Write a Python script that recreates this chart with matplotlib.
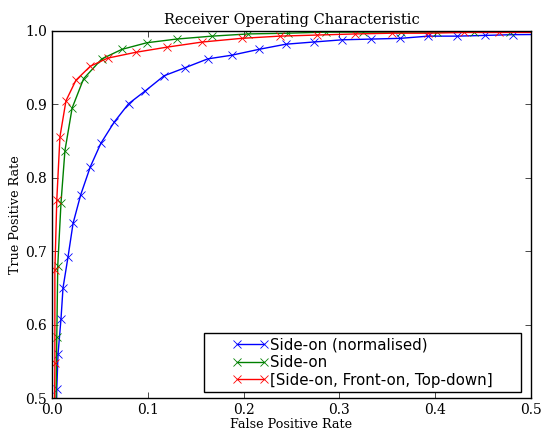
import matplotlib
matplotlib.use("Agg")
import numpy as np
import matplotlib.pyplot as plt
from matplotlib.legend_handler import HandlerLine2D

fpr_norm = [0.0, 0.005, 0.0063, 0.0094, 0.0115, 0.0167, 0.022, 0.030, 0.040, 0.051, 0.065,
            0.080, 0.097, 0.117, 0.139, 0.1625, 0.1875, 0.216, 0.244, 0.273, 0.303,
            0.333, 0.3635, 0.393, 0.423, 0.452, 0.481, 1.0]
tpr_norm = [0.0, 0.512, 0.560, 0.608, 0.650, 0.692, 0.738, 0.777, 0.815, 0.847, 0.876,
            0.901, 0.918, 0.939, 0.950, 0.962, 0.967, 0.975, 0.982, 0.985, 0.988,
            0.989, 0.990, 0.993, 0.993, 0.994, 0.995, 1.0]

fpr_side = [0.0, 0.005, 0.006, 0.0094, 0.0135, 0.021, 0.033, 0.052, 0.073, 0.099, 0.130,
            0.167, 0.205, 0.246, 0.286, 0.325, 0.364, 0.402, 0.440, 0.478, 1.0]
tpr_side = [0.0, 0.583, 0.680, 0.766, 0.837, 0.895, 0.935, 0.962, 0.975, 0.984, 0.989,
            0.993, 0.996, 0.997, 0.9985, 0.9985, 0.9985, 0.9985, 0.9985, 0.9985, 1.0]

fpr_all = [0.0, 0.003, 0.003, 0.005, 0.0083, 0.0146, 0.025, 0.040, 0.058, 0.0875, 0.120,
           0.157, 0.198, 0.2375, 0.277, 0.3167, 0.355, 0.393, 0.430, 0.467, 1.0]
tpr_all = [0.0, 0.548, 0.674, 0.770, 0.856, 0.905, 0.933, 0.952, 0.963, 0.971, 0.978,
           0.985, 0.990, 0.993, 0.9945, 0.996, 0.997, 0.997, 0.998, 0.998, 1.0]

labels = ["Side-on (normalised)", "Side-on", "[Side-on, Front-on, Top-down]"]
colors = ["#0000ff", "#008000", "#ff0000"]

serif = ["DejaVu Serif"]
W, H = 547, 432
fig = plt.figure(figsize=(W / 100, H / 100), dpi=100)
ax_l, ax_r, ax_t, ax_b = 52, 531, 31, 398
ax = fig.add_axes([ax_l / W, 1 - ax_b / H, (ax_r - ax_l) / W, (ax_b - ax_t) / H])

for x, y, lab, c in zip([fpr_norm, fpr_side, fpr_all], [tpr_norm, tpr_side, tpr_all], labels, colors):
    ax.plot(x, y, color=c, marker="x", markersize=6, markeredgewidth=0.6, linewidth=1.0, label=lab)

ax.set_xlim(0, 0.5)
ax.set_ylim(0.5, 1.0)
ax.set_xticks([0.0, 0.1, 0.2, 0.3, 0.4, 0.5])
ax.set_yticks([0.5, 0.6, 0.7, 0.8, 0.9, 1.0])
ax.tick_params(direction="in", top=True, right=True, length=4, width=0.5, labelsize=10, pad=3.5)
for lbl in ax.get_xticklabels() + ax.get_yticklabels():
    lbl.set_family(serif)
for s in ax.spines.values():
    s.set_linewidth(1.0)

ax.set_title("Receiver Operating Characteristic", family=serif, fontsize=10.5, pad=5)
ax.set_xlabel("False Positive Rate", family=serif, fontsize=9.2, labelpad=1)
ax.set_ylabel("True Positive Rate", family=serif, fontsize=9.2, labelpad=2)


class OffsetHandler(HandlerLine2D):
    # place the two legend markers near the right end of a wide handle box
    def get_xdata(self, legend, xdescent, ydescent, width, height, fontsize):
        right = -xdescent + width - 0.8
        left = right - 19.8
        xd = np.array([left, right])
        return xd, xd


handlers = {h: OffsetHandler(numpoints=2) for h in ax.get_lines()}
lw = (521 - 204) / (ax_r - ax_l)
lx = (204 - ax_l) / (ax_r - ax_l)
ly = (ax_b - 392) / (ax_b - ax_t)
leg = ax.legend(loc="lower left", bbox_to_anchor=(lx, ly, lw, 0.2), mode="expand",
                handler_map=handlers, fancybox=False, framealpha=1,
                edgecolor="black", prop={"family": "DejaVu Sans", "size": 10.8},
                handlelength=3.8, borderaxespad=0.0, labelspacing=0.18,
                borderpad=0.3, handletextpad=0.3)
leg.get_frame().set_linewidth(1.0)

fig.savefig("out.png", dpi=100)
